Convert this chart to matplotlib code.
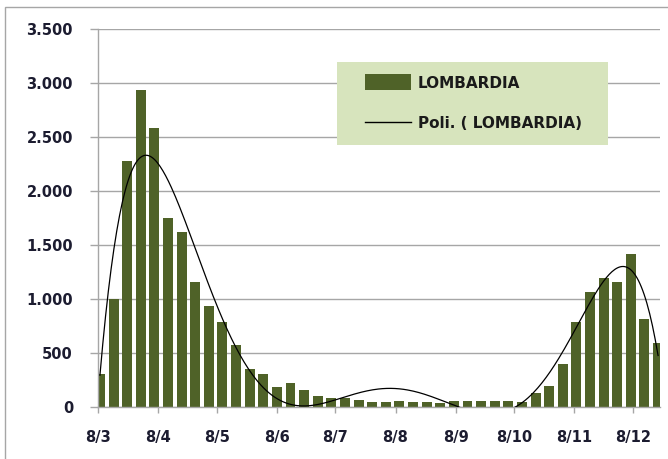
import numpy as np
import pandas as pd
import matplotlib
matplotlib.use("Agg")
import matplotlib.pyplot as plt
import matplotlib.dates as mdates
from matplotlib.ticker import FuncFormatter, MultipleLocator
from matplotlib.patches import Rectangle
from matplotlib.lines import Line2D

# weekly new cases, Lombardia
week_start = "2020-03-09"
n_weeks = 42
cases = [310, 1000, 2280, 2940, 2590, 1750, 1620, 1160, 935, 787,
         574, 352, 308, 191, 222, 160, 105, 90, 90, 68,
         48, 48, 58, 50, 48, 40, 58, 58, 58, 58,
         58, 45, 136, 198, 398, 790, 1070, 1201, 1157, 1417,
         820, 600]
series_name = "LOMBARDIA"
trend_name = "Poli. ( LOMBARDIA)"

bar_color = "#4F6228"
grid_color = "#A6A6A6"
text_color = "#1C1C30"

weeks = pd.date_range(week_start, periods=n_weeks, freq="7D")
x = mdates.date2num(weeks)

# 6th order polynomial trendline (like Excel)
x0 = x[0]
coef = np.polyfit(x - x0, cases, 6)
xs = np.linspace(x[0], x[-1], 400)
ys = np.polyval(coef, xs - x0)

fig = plt.figure(figsize=(6.68, 4.59), dpi=100)
W, H = 668, 459
ax = fig.add_axes([98 / W, 1 - 407.3 / H, (660 - 98) / W, (407.3 - 29.3) / H])

ax.bar(x, cases, width=5.1, color=bar_color, zorder=2)
ax.plot(xs, ys, color="black", lw=0.9, zorder=3)

start = mdates.date2num(pd.Timestamp("2020-03-08"))
ax.set_xlim(start, start + 289)
ax.set_ylim(0, 3500)

ax.yaxis.set_major_locator(MultipleLocator(500))
ax.yaxis.set_major_formatter(FuncFormatter(lambda v, p: f"{int(v):,}".replace(",", ".")))
ax.xaxis.set_major_locator(mdates.MonthLocator(bymonthday=8))
ax.xaxis.set_major_formatter(FuncFormatter(
    lambda v, p: f"{mdates.num2date(v).day}/{mdates.num2date(v).month}"))

ax.grid(axis="y", color=grid_color, lw=1.0, zorder=0)
ax.set_axisbelow(True)
for s in ["top", "right"]:
    ax.spines[s].set_visible(False)
for s in ["left", "bottom"]:
    ax.spines[s].set_color(grid_color)
    ax.spines[s].set_linewidth(1.0)

ax.tick_params(axis="y", length=6, width=1, color=grid_color, pad=12,
               labelsize=10.5, labelcolor=text_color)
ax.tick_params(axis="x", length=4, width=1, color=grid_color, pad=12,
               labelsize=10.5, labelcolor=text_color)
for lab in ax.get_xticklabels() + ax.get_yticklabels():
    lab.set_fontweight("bold")

# legend box
ax.add_patch(Rectangle((337, 459 - 145), 271, 83.3, transform=None,
                       facecolor="#D7E4BD", edgecolor="none", zorder=4))
handles = [Rectangle((0, 0), 1, 1, facecolor=bar_color, edgecolor="none"),
           Line2D([], [], color="black", lw=1.0)]
leg = ax.legend(handles, [series_name, trend_name], loc="upper left",
                bbox_to_anchor=(347 / W, 1 - 56 / H), bbox_transform=fig.transFigure,
                frameon=False, handlelength=3.0, handleheight=1.25,
                handletextpad=0.45, labelspacing=1.6, borderpad=0.7,
                prop={"weight": "bold", "size": 11})
leg.set_zorder(5)
for t in leg.get_texts():
    t.set_color("#1A1A1A")

# outer chart border
fig.add_artist(Rectangle((5 / W, -0.2), 1.2, 1.2 - 7 / H, transform=fig.transFigure,
                         facecolor="none", edgecolor=grid_color, lw=1.0))

fig.savefig("out.png", dpi=100)
